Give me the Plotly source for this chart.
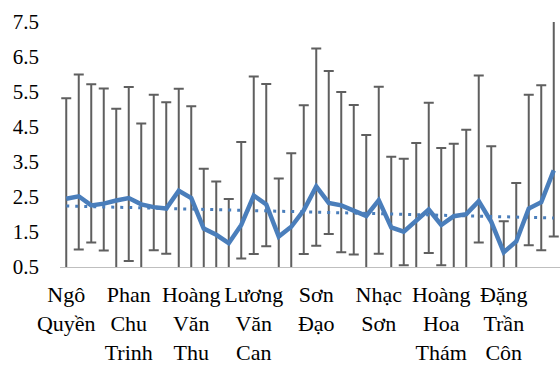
import numpy as np
import plotly.graph_objects as go

# Mean values per site (40 sites), with minimum / maximum per site
mean_vals = [2.45, 2.52, 2.26, 2.31, 2.40, 2.47, 2.29, 2.21, 2.17, 2.68,
             2.47, 1.60, 1.42, 1.18, 1.70, 2.54, 2.29, 1.37, 1.65, 2.12,
             2.80, 2.33, 2.26, 2.12, 1.96, 2.41, 1.63, 1.51, 1.84, 2.14,
             1.70, 1.95, 2.01, 2.38, 1.79, 0.92, 1.23, 2.17, 2.35, 3.26]
max_vals = [5.32, 6.00, 5.72, 5.60, 5.02, 5.64, 4.60, 5.42, 5.21, 5.59,
            5.09, 3.31, 2.94, 2.44, 4.07, 5.94, 5.73, 3.03, 3.75, 5.12,
            6.74, 6.10, 5.50, 5.13, 4.27, 5.65, 3.65, 3.59, 4.04, 5.19,
            3.90, 4.02, 4.42, 5.97, 3.95, 1.81, 2.90, 5.42, 5.69, 8.00]
min_vals = [0.30, 1.00, 1.20, 0.97, 0.30, 0.67, 0.30, 0.98, 0.88, 0.30,
            0.30, 0.30, 0.30, 0.30, 0.74, 0.87, 1.09, 0.30, 0.30, 0.87,
            1.11, 1.44, 0.92, 0.86, 0.30, 0.88, 0.30, 0.55, 0.30, 0.90,
            0.55, 0.30, 0.30, 1.20, 0.30, 0.30, 0.30, 1.12, 0.98, 1.37]

# Category labels shown every fifth site
label_positions = [0, 5, 10, 15, 20, 25, 30, 35]
label_texts = ["Ngô<br>Quyền", "Phan<br>Chu<br>Trinh", "Hoàng<br>Văn<br>Thu",
               "Lương<br>Văn<br>Can", "Sơn<br>Đạo", "Nhạc<br>Sơn",
               "Hoàng<br>Hoa<br>Thám", "Đặng<br>Trần<br>Côn"]

y_ticks = [0.5, 1.5, 2.5, 3.5, 4.5, 5.5, 6.5, 7.5]

x = np.arange(len(mean_vals))
mean_arr = np.array(mean_vals)
err_plus = np.array(max_vals) - mean_arr
err_minus = mean_arr - np.array(min_vals)

# Linear trend of the means
slope, intercept = np.polyfit(x, mean_arr, 1)
trend = slope * x + intercept

blue = "#4A7EBB"
fig = go.Figure()

# min-max whiskers
fig.add_trace(go.Scatter(
    x=x, y=mean_arr, mode="lines",
    line=dict(color="rgba(0,0,0,0)", width=0),
    error_y=dict(type="data", symmetric=False, array=err_plus,
                 arrayminus=err_minus, color="#5f5f5f",
                 thickness=2, width=5),
    hoverinfo="skip", showlegend=False))

# dotted linear trend
fig.add_trace(go.Scatter(
    x=x, y=trend, mode="lines",
    line=dict(color=blue, width=3, dash="3px,6px"),
    showlegend=False))

# mean line
fig.add_trace(go.Scatter(
    x=x, y=mean_arr, mode="lines",
    line=dict(color=blue, width=4.5),
    showlegend=False))

serif = "Liberation Serif"
fig.update_layout(
    width=560, height=365,
    margin=dict(l=60, r=0, t=22, b=94),
    paper_bgcolor="white", plot_bgcolor="white",
    showlegend=False,
    font=dict(family=serif, color="black"),
    xaxis=dict(range=[-0.5, len(mean_vals) - 0.5],
               tickmode="array", tickvals=label_positions,
               ticktext=label_texts, tickangle=0,
               tickfont=dict(family=serif, size=22, color="black"),
               showgrid=False, zeroline=False,
               showline=True, linecolor="#bfbfbf", linewidth=1,
               ticks="", ticklabelstandoff=8),
    yaxis=dict(range=[0.5, 7.5], tickmode="array", tickvals=y_ticks,
               ticktext=[f"{v:.1f}" for v in y_ticks],
               tickfont=dict(family=serif, size=21, color="black"),
               showgrid=False, zeroline=False, showline=False,
               ticks="", ticklabelstandoff=20),
)

fig.write_html("out.html")
